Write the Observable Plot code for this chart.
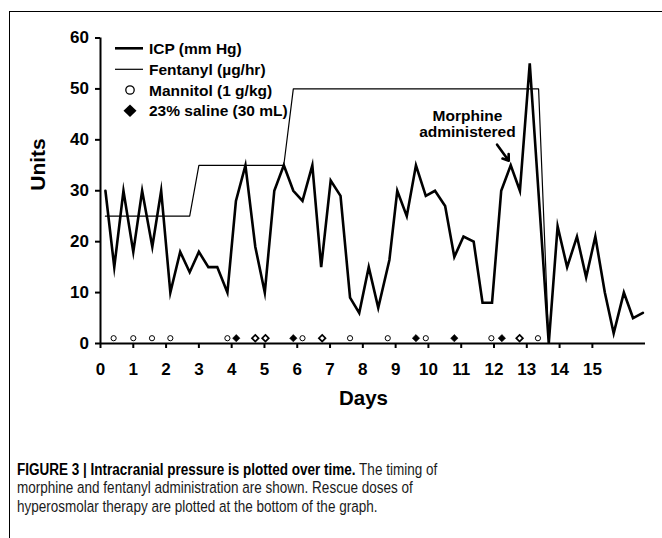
<!DOCTYPE html>
<html>
<head>
<meta charset="utf-8">
<script src="https://cdn.jsdelivr.net/npm/d3@7"></script>
<script src="https://cdn.jsdelivr.net/npm/@observablehq/plot@0.6"></script>
<style>
  html, body { margin: 0; padding: 0; background: #fff; width: 662px; height: 538px; overflow: hidden; }
  #frame { position: absolute; left: 9px; top: 11px; width: 700px; height: 600px;
           border-top: 1.5px solid #000; border-left: 1.5px solid #000; }
  #chart { position: absolute; left: 0; top: 0; }
  #caption { position: absolute; left: 17px; top: 461px; width: 560px;
             font-family: "Liberation Sans", Arial, sans-serif; font-size: 16.8px; line-height: 18.3px;
             color: #1a1a1a; white-space: nowrap; transform: scaleX(0.805); transform-origin: left top; }
  #caption b { color: #000; }
</style>
</head>
<body>
<div id="frame"></div>
<div id="chart"></div>
<div id="caption"><b>FIGURE 3 | Intracranial pressure is plotted over time.</b> The timing of<br>morphine and fentanyl administration are shown. Rescue doses of<br>hyperosmolar therapy are plotted at the bottom of the graph.</div>
<script>
// ICP readings (mm Hg) by day
const icpDays = [0.15, 0.42, 0.70, 1.00, 1.27, 1.58, 1.85, 2.13, 2.43, 2.72, 3.00, 3.29, 3.56, 3.87,
  4.13, 4.42, 4.72, 5.01, 5.30, 5.59, 5.88, 6.16, 6.46, 6.73, 7.02, 7.32, 7.61, 7.89, 8.18, 8.47,
  8.81, 9.05, 9.34, 9.62, 9.92, 10.20, 10.51, 10.79, 11.07, 11.38, 11.65, 11.94, 12.22, 12.51,
  12.79, 13.09, 13.67, 13.94, 14.23, 14.53, 14.81, 15.09, 15.38, 15.65, 15.96, 16.24, 16.54];
const icpValues = [30, 15, 30, 18, 30, 19, 30, 10, 18, 14, 18, 15, 15, 10,
  28, 35, 19, 10, 30, 35, 30, 28, 35, 15, 32, 29, 9, 6, 15, 7,
  16.4, 30, 25, 35, 29, 30, 27, 17, 21, 20, 8, 8, 30, 35,
  30, 55, 0, 23, 15, 21, 13, 21, 10, 2, 10, 5, 6];

// Fentanyl infusion (µg/hr)
const fentanylDays = [0.15, 2.72, 3.00, 5.59, 5.88, 13.36, 13.67];
const fentanylRates = [25, 25, 35, 35, 50, 50, 0];

// Rescue doses
const mannitolDays = [0.40, 1.00, 1.57, 2.13, 3.87, 6.16, 7.61, 8.76, 9.92, 11.92, 13.34];
const salineDays = [4.14, 5.88, 9.62, 10.79, 12.24];
const salineOpenDays = [4.72, 5.03, 6.76, 12.78];

// Morphine administration
const morphineDay = 12.51;
const morphineLabel = "Morphine\nadministered";

// Ticks and labels
const xTicks = [0, 1, 2, 3, 4, 5, 6, 7, 8, 9, 10, 11, 12, 13, 14, 15];
const yTicks = [0, 10, 20, 30, 40, 50, 60];
const xLabel = "Days";
const yLabel = "Units";
const legendLabels = ["ICP (mm Hg)", "Fentanyl (\u00b5g/hr)", "Mannitol (1 g/kg)", "23% saline (30 mL)"];

const icp = icpDays.map((d, i) => ({day: d, value: icpValues[i]}));
const fentanyl = fentanylDays.map((d, i) => ({day: d, value: fentanylRates[i]}));
const morphine = icp.filter(d => d.day === morphineDay);

const font = "'Liberation Sans', Arial, Helvetica, sans-serif";

const chart = Plot.plot({
  width: 662,
  height: 425,
  marginLeft: 100,
  marginRight: 17,
  marginTop: 37.5,
  marginBottom: 82,
  x: {domain: [0, 16.62]},
  y: {domain: [0, 60]},
  style: {fontFamily: font, fontWeight: "bold", color: "#000", background: "transparent", overflow: "visible"},
  marks: [
    Plot.axisY({ticks: yTicks, tickSize: 5, tickPadding: 6.5, fontSize: 17, strokeWidth: 2, label: null}),
    Plot.axisX({ticks: xTicks, tickSize: 5, tickPadding: 14.5, fontSize: 17, strokeWidth: 2, label: null}),
    Plot.ruleX([0], {strokeWidth: 2}),
    Plot.ruleY([0], {strokeWidth: 2}),
    Plot.text([yLabel], {frameAnchor: "left", dx: -62, rotate: -90, fontSize: 21, fontWeight: "bold"}),
    Plot.text([xLabel], {frameAnchor: "bottom", dx: -9.5, dy: 61, fontSize: 20.5, fontWeight: "bold"}),
    Plot.line(fentanyl, {x: "day", y: "value", stroke: "#000", strokeWidth: 1.2}),
    Plot.line(icp, {x: "day", y: "value", stroke: "#000", strokeWidth: 2.6, strokeLinejoin: "miter", strokeMiterlimit: 10}),
    Plot.dot(mannitolDays, {x: d => d, frameAnchor: "bottom", dy: -5.3, r: 2.6, fill: "white", stroke: "#000", strokeWidth: 1}),
    Plot.dot(salineDays, {x: d => d, frameAnchor: "bottom", dy: -5.3, r: 3.3, symbol: "diamond2", fill: "#000", stroke: "#000", strokeWidth: 0.6}),
    Plot.dot(salineOpenDays, {x: d => d, frameAnchor: "bottom", dy: -5.3, r: 3.0, symbol: "diamond2", fill: "white", stroke: "#000", strokeWidth: 1.7}),
    Plot.text(morphine, {x: "day", y: "value", text: () => morphineLabel, dx: -43.3, dy: -41.6, fontSize: 15.5, fontWeight: "bold", lineHeight: 1.08, lineAnchor: "middle"}),
    Plot.arrow(morphine, {x1: d => d.day - 0.415, y1: d => d.value + 4.05, x2: d => d.day - 0.06, y2: d => d.value + 0.9, stroke: "#000", strokeWidth: 2.6, headLength: 7, headAngle: 70})
  ]
});

document.getElementById("chart").appendChild(chart);

// Legend (inside plot, top-left)
const svg = d3.select(chart);
const lg = svg.append("g").attr("font-family", font).attr("font-weight", "bold").attr("font-size", 15.5).attr("text-anchor", "start");
const rowY = [48.3, 69.3, 90, 110.7];
lg.append("line").attr("x1", 115).attr("x2", 143).attr("y1", rowY[0]).attr("y2", rowY[0]).attr("stroke", "#000").attr("stroke-width", 2.6);
lg.append("line").attr("x1", 115).attr("x2", 143).attr("y1", rowY[1]).attr("y2", rowY[1]).attr("stroke", "#000").attr("stroke-width", 1.2);
lg.append("circle").attr("cx", 130).attr("cy", rowY[2]).attr("r", 4.2).attr("fill", "white").attr("stroke", "#000").attr("stroke-width", 1.3);
lg.append("path").attr("d", "M130," + (rowY[3] - 6.3) + "L136.5," + rowY[3] + "L130," + (rowY[3] + 6.3) + "L123.5," + rowY[3] + "Z").attr("fill", "#000");
legendLabels.forEach((t, i) => {
  lg.append("text").attr("x", 149).attr("y", rowY[i]).attr("dy", "0.36em").attr("fill", "#000").attr("text-anchor", "start").text(t);
});
</script>
</body>
</html>
